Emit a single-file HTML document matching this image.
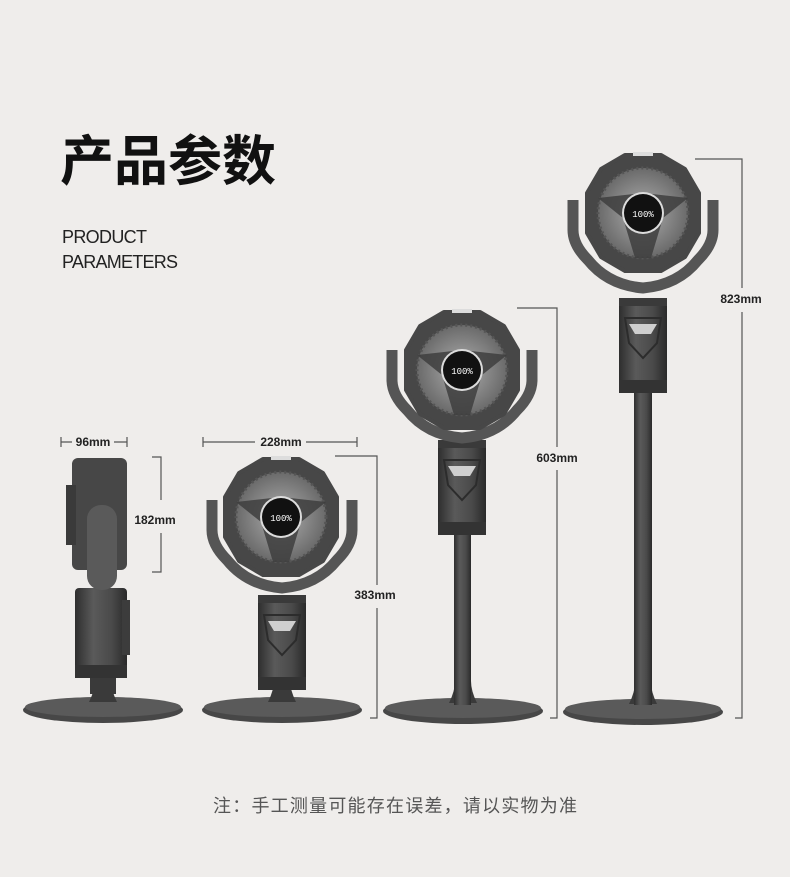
<!DOCTYPE html>
<html><head><meta charset="utf-8"><style>
html,body{margin:0;padding:0;background:#efedeb;}
svg{display:block}
</style></head><body>
<svg width="790" height="877" viewBox="0 0 790 877" xmlns="http://www.w3.org/2000/svg">
<defs>
<linearGradient id="body" x1="0" x2="1" y1="0" y2="0">
<stop offset="0" stop-color="#2e2e2e"/><stop offset="0.35" stop-color="#5a5a5a"/><stop offset="0.7" stop-color="#4a4a4a"/><stop offset="1" stop-color="#2a2a2a"/>
</linearGradient>
<radialGradient id="grill"><stop offset="0.3" stop-color="#9a9a9a"/><stop offset="1" stop-color="#6a6a6a"/></radialGradient>
<g id="head">
<path d="M-18,-58 L18,-58 L42,-44 L56,-20 L56,20 L42,44 L18,58 L-18,58 L-42,44 L-56,20 L-56,-20 L-42,-44 Z" fill="#474747" stroke="#474747" stroke-width="4" stroke-linejoin="round"/>
<circle r="45" fill="url(#grill)"/>
<circle r="45" fill="none" stroke="#555" stroke-width="3" stroke-dasharray="2 3"/>
<path d="M-45,-15 L0,-20 L45,-15 L20,5 L8,45 L-8,45 L-20,5 Z" fill="#3e3e3e" opacity="0.85"/>
<circle r="21" fill="#dcdcdc"/>
<circle r="19" fill="#111"/>
<text x="0" y="4" font-family="Liberation Mono, monospace" font-size="9" fill="#fff" text-anchor="middle">100%</text>
<rect x="-10" y="-61" width="20" height="4" fill="#ddd"/>
</g>
<g id="yoke">
<path d="M-70,-10 L-70,20 Q-70,35 -55,50 Q-35,75 0,78 Q35,75 55,50 Q70,35 70,20 L70,-10" fill="none" stroke="#555" stroke-width="11"/>
</g>
<g id="col">
<rect x="-24" y="0" width="48" height="95" rx="4" fill="url(#body)"/>
<rect x="-24" y="0" width="48" height="8" fill="#3a3a3a"/>
<rect x="-24" y="82" width="48" height="13" fill="#333"/>
<path d="M-14,26 L14,26 L8,36 L-8,36 Z" fill="#cfcfcf"/>
<path d="M-18,20 L18,20 L14,45 L0,60 L-14,45 Z" fill="none" stroke="#2c2c2c" stroke-width="2"/>
</g>
<g id="base">
<ellipse cx="0" cy="0" rx="80" ry="13" fill="#474747"/>
<ellipse cx="0" cy="-3" rx="78" ry="10" fill="#5a5a5a"/>
<path d="M-14,-8 Q-8,-20 -8,-30 L8,-30 Q8,-20 14,-8 Z" fill="#3a3a3a"/>
</g>
</defs>

<text x="60" y="180" font-family="Liberation Sans, Noto Sans CJK SC, sans-serif" font-size="54" font-weight="bold" fill="#111">产品参数</text>
<text x="62" y="243" font-family="Liberation Sans, sans-serif" font-size="18" fill="#222" textLength="85">PRODUCT</text>
<text x="62" y="268" font-family="Liberation Sans, sans-serif" font-size="18" fill="#222" textLength="116">PARAMETERS</text>

<!-- fan 1 side -->
<use href="#base" x="103" y="710"/>
<rect x="90" y="670" width="26" height="24" fill="#3a3a3a"/>
<rect x="75" y="588" width="52" height="90" rx="4" fill="url(#body)"/>
<rect x="75" y="665" width="52" height="13" fill="#333"/>
<rect x="122" y="600" width="8" height="55" fill="#3c3c3c"/>
<rect x="72" y="458" width="55" height="112" rx="6" fill="#474747"/>
<rect x="66" y="485" width="10" height="60" fill="#3a3a3a"/>
<rect x="87" y="505" width="30" height="85" rx="14" fill="#5a5a5a"/>

<!-- fan 2 -->
<use href="#base" x="282" y="710"/>
<use href="#col" x="282" y="595"/>
<use href="#yoke" x="282" y="510"/>
<use href="#head" x="281" y="517"/>

<!-- fan 3 -->
<use href="#base" x="463" y="711"/>
<rect x="454" y="530" width="17" height="175" fill="url(#body)"/>
<use href="#col" x="462" y="440"/>
<use href="#yoke" x="462" y="360"/>
<use href="#head" x="462" y="370"/>

<!-- fan 4 -->
<use href="#base" x="643" y="712"/>
<rect x="634" y="385" width="18" height="320" fill="url(#body)"/>
<use href="#col" x="643" y="298"/>
<use href="#yoke" x="643" y="210"/>
<use href="#head" x="643" y="213"/>

<!-- dimension lines -->
<g stroke="#555" stroke-width="1.2" fill="none">
<path d="M61,437 V447 M61,442 H72 M114,442 H127 M127,437 V447"/>
<path d="M152,457 H161 V500 M161,533 V572 H152"/>
<path d="M203,437 V447 M203,442 H255 M306,442 H357 M357,437 V447"/>
<path d="M335,456 H377 V585 M377,608 V718 H370"/>
<path d="M517,308 H557 V447 M557,470 V718 H550"/>
<path d="M695,159 H742 V288 M742,312 V718 H735"/>
</g>
<g font-family="Liberation Sans, sans-serif" font-size="12" font-weight="bold" fill="#222" text-anchor="middle">
<text x="93" y="446">96mm</text>
<text x="281" y="446">228mm</text>
<text x="155" y="524">182mm</text>
<text x="375" y="599">383mm</text>
<text x="557" y="462">603mm</text>
<text x="741" y="303">823mm</text>
</g>

<text x="213" y="812" font-family="Liberation Sans, Noto Sans CJK SC, sans-serif" font-size="18" fill="#555" textLength="364" lengthAdjust="spacing">注：手工测量可能存在误差，请以实物为准</text>
</svg>
</body></html>
